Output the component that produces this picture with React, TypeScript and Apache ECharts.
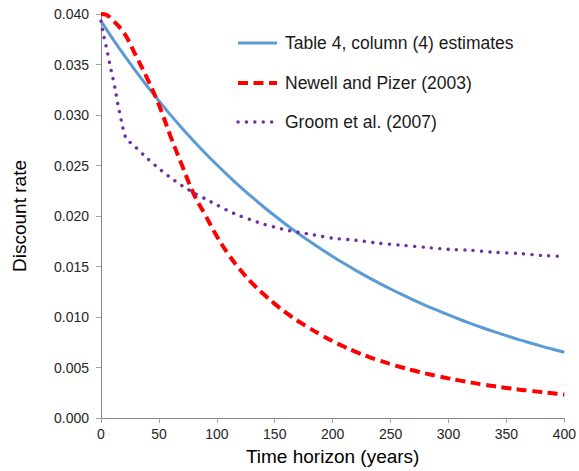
import React, { useEffect, useRef } from "react";
import * as echarts from "echarts";

const yTickLabels = ["0.000", "0.005", "0.010", "0.015", "0.020", "0.025", "0.030", "0.035", "0.040"];
const xTickLabels = ["0", "50", "100", "150", "200", "250", "300", "350", "400"];

const seriesNames = [
  "Table 4, column (4) estimates",
  "Newell and Pizer (2003)",
  "Groom et al. (2007)",
];

const table4Years = [0, 10, 20, 30, 40, 50, 60, 70, 80, 90, 100, 110, 120, 130, 140, 150, 160, 170, 180, 190, 200, 210, 220, 230, 240, 250, 260, 270, 280, 290, 300, 310, 320, 330, 340, 350, 360, 370, 380, 390, 400];
const table4Rates = [0.0393, 0.03757, 0.03592, 0.03434, 0.03283, 0.03139, 0.03001, 0.02869, 0.02743, 0.02622, 0.02507, 0.02397, 0.02291, 0.02191, 0.02094, 0.02002, 0.01914, 0.0183, 0.0175, 0.01673, 0.01599, 0.01529, 0.01462, 0.01397, 0.01336, 0.01277, 0.01221, 0.01167, 0.01116, 0.01067, 0.0102, 0.00975, 0.00932, 0.00891, 0.00852, 0.00815, 0.00779, 0.00745, 0.00712, 0.00681, 0.00651];

const newellYears = [0, 5, 10, 20, 30, 40, 50, 60, 70, 80, 90, 100, 110, 120, 130, 140, 150, 160, 170, 180, 190, 200, 210, 220, 230, 240, 250, 260, 270, 280, 290, 300, 310, 320, 330, 340, 350, 360, 370, 380, 390, 400];
const newellRates = [0.04, 0.0399, 0.0394, 0.0381, 0.0359, 0.0336, 0.031, 0.0279, 0.025, 0.0222, 0.0201, 0.018, 0.0162, 0.0147, 0.0134, 0.0123, 0.0113, 0.0104, 0.0096, 0.0089, 0.00822, 0.0076, 0.00705, 0.00655, 0.0061, 0.0057, 0.00533, 0.005, 0.0047, 0.00442, 0.00416, 0.00392, 0.0037, 0.0035, 0.00331, 0.00314, 0.00298, 0.00283, 0.0027, 0.00257, 0.00244, 0.00232];

const groomYears = [0, 2, 5, 8, 10, 12, 15, 18, 20, 22, 25, 30, 40, 50, 60, 70, 80, 90, 100, 110, 120, 130, 140, 150, 160, 170, 180, 190, 200, 220, 240, 260, 280, 300, 320, 340, 360, 380, 400];
const groomRates = [0.0393, 0.038, 0.0365, 0.0348, 0.0338, 0.0327, 0.0308, 0.0292, 0.0282, 0.0276, 0.0273, 0.0268, 0.0257, 0.0247, 0.0238, 0.023, 0.0223, 0.0217, 0.0211, 0.0205, 0.02, 0.0196, 0.0192, 0.0189, 0.0186, 0.0184, 0.0182, 0.018, 0.0178, 0.0176, 0.0173, 0.0171, 0.0169, 0.0167, 0.0166, 0.0164, 0.0163, 0.0161, 0.016];

const pairs = (xs: number[], ys: number[]) => xs.map((x, i) => [x, ys[i]]);

const colors = ["#5B9BD5", "#FF0000", "#7030A0"];
const widths = [3, 4, 3.4];
const dashes: (number[] | null)[] = [null, [10, 5.5], [0.1, 8.3]];

export default function App() {
  const ref = useRef<HTMLDivElement>(null);
  useEffect(() => {
    if (!ref.current) return;
    const chart = echarts.init(ref.current, undefined, { renderer: "svg" });
    const font = "Liberation Sans";
    const legendRows = [43, 83, 122];
    const legendGraphics: any[] = [];
    seriesNames.forEach((name, i) => {
      legendGraphics.push({
        type: "line",
        shape: { x1: 238, y1: legendRows[i], x2: 277, y2: legendRows[i] },
        style: {
          stroke: colors[i],
          lineWidth: widths[i],
          lineDash: dashes[i] ?? undefined,
          lineCap: i === 2 ? "round" : "butt",
        },
        silent: true,
      });
      legendGraphics.push({
        type: "text",
        x: 285,
        y: legendRows[i],
        style: {
          text: name,
          fontFamily: font,
          fontSize: 17.5,
          fill: "#1a1a1a",
          verticalAlign: "middle",
          align: "left",
        },
        silent: true,
      });
    });
    chart.setOption({
      animation: false,
      backgroundColor: "#ffffff",
      grid: { left: 101, right: 11, top: 14, bottom: 53, containLabel: false },
      graphic: legendGraphics,
      xAxis: {
        type: "value",
        min: 0,
        max: 400,
        interval: 50,
        name: "Time horizon (years)",
        nameLocation: "middle",
        nameGap: 29,
        nameTextStyle: { fontFamily: font, fontSize: 19, color: "#000" },
        axisLine: { show: true, lineStyle: { color: "#868686", width: 1 } },
        axisTick: { show: true, inside: false, length: 5, lineStyle: { color: "#a6a6a6" } },
        splitLine: { show: false },
        axisLabel: {
          fontFamily: font,
          fontSize: 14,
          color: "#262626",
          margin: 9,
          formatter: (v: number) => xTickLabels[Math.round(v / 50)] ?? String(v),
        },
      },
      yAxis: {
        type: "value",
        min: 0,
        max: 0.04,
        interval: 0.005,
        name: "Discount rate",
        nameLocation: "middle",
        nameGap: 72,
        nameTextStyle: { fontFamily: font, fontSize: 19, color: "#000" },
        axisLine: { show: true, lineStyle: { color: "#868686", width: 1 } },
        axisTick: { show: true, inside: false, length: 5, lineStyle: { color: "#a6a6a6" } },
        splitLine: { show: false },
        axisLabel: {
          fontFamily: font,
          fontSize: 14,
          color: "#262626",
          margin: 12,
          formatter: (v: number) => yTickLabels[Math.round(v / 0.005)] ?? v.toFixed(3),
        },
      },
      series: seriesNames.map((name, i) => ({
        name,
        type: "line",
        data:
          i === 0
            ? pairs(table4Years, table4Rates)
            : i === 1
            ? pairs(newellYears, newellRates)
            : pairs(groomYears, groomRates),
        showSymbol: false,
        symbol: "none",
        smooth: i === 2 ? 0.2 : 0.4,
        lineStyle: {
          color: colors[i],
          width: widths[i],
          type: dashes[i] ?? "solid",
          cap: i === 2 ? "round" : "butt",
          join: "round",
        },
        itemStyle: { color: colors[i] },
      })),
    });
    return () => chart.dispose();
  }, []);
  return (
    <div
      ref={ref}
      style={{ position: "absolute", left: 0, top: 0, width: 579, height: 471 }}
    />
  );
}
